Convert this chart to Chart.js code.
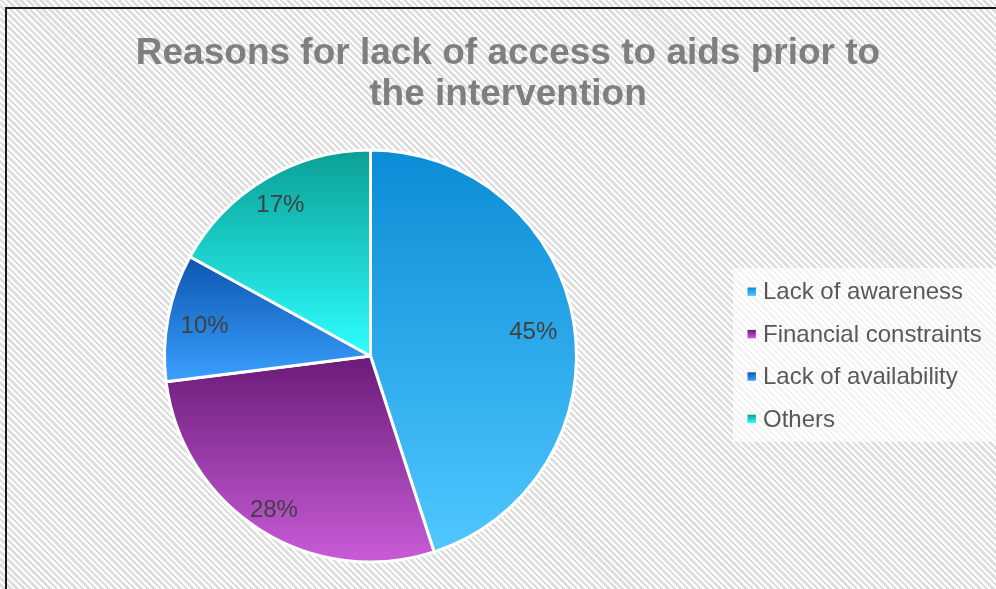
<!DOCTYPE html>
<html>
<head>
<meta charset="utf-8">
<script src="https://cdn.jsdelivr.net/npm/chart.js@4/dist/chart.umd.min.js"></script>
<style>
  html, body { margin: 0; padding: 0; }
  #wrap {
    position: relative;
    width: 996px;
    height: 589px;
    overflow: hidden;
    background: repeating-linear-gradient(45deg, #ffffff 0px, #ffffff 2.1px, #dedede 2.1px, #dedede 4.6px);
  }
  #frame {
    position: absolute;
    left: 5px;
    top: 7px;
    width: 1000px;
    height: 600px;
    border-left: 2px solid #1a1a1a;
    border-top: 2px solid #1a1a1a;
  }
  canvas { position: absolute; left: 0; top: 0; }
</style>
</head>
<body>
<div id="wrap">
  <div id="frame"></div>
  <canvas id="chart" width="996" height="589"></canvas>
</div>
<script>
const titleLines = ["Reasons for lack of access to aids prior to", "the intervention"];
const categories = ["Lack of awareness", "Financial constraints", "Lack of availability", "Others"];
const shares = [45, 28, 10, 17];
const topColors = ["#0B8CD6", "#6A1B78", "#0D55AE", "#0A9E94"];
const bottomColors = ["#50C7FF", "#C95CD8", "#3AA0FF", "#2EFFFF"];

const FONT = "'Liberation Sans', Arial, sans-serif";
// how far out along the radius each percentage sits
const labelDist = [0.80, 0.875, 0.82, 0.86];

// vertical gradient over the bounding box of each slice, like the office chart
function sliceGradient(ctx) {
  const chart = ctx.chart;
  const area = chart.chartArea;
  const i = ctx.dataIndex;
  if (!area) return topColors[i];
  const cx = (area.left + area.right) / 2;
  const cy = (area.top + area.bottom) / 2;
  const r = Math.min(area.width, area.height) / 2;
  const total = shares.reduce((a, b) => a + b, 0);
  let start = 0;
  for (let k = 0; k < i; k++) start += shares[k];
  const a0 = start / total * Math.PI * 2 - Math.PI / 2;
  const a1 = (start + shares[i]) / total * Math.PI * 2 - Math.PI / 2;
  let ys = [cy, cy + r * Math.sin(a0), cy + r * Math.sin(a1)];
  [Math.PI / 2, Math.PI * 1.5, -Math.PI / 2].forEach(a => {
    if (a > a0 && a < a1) ys.push(cy + r * Math.sin(a));
  });
  const g = chart.ctx.createLinearGradient(0, Math.min(...ys), 0, Math.max(...ys));
  g.addColorStop(0, topColors[i]);
  g.addColorStop(1, bottomColors[i]);
  return g;
}

const decorations = {
  id: "decorations",
  afterDatasetsDraw(chart) {
    const ctx = chart.ctx;
    const meta = chart.getDatasetMeta(0);
    const total = shares.reduce((a, b) => a + b, 0);
    ctx.save();
    ctx.font = "24px " + FONT;
    ctx.fillStyle = "#404040";
    ctx.textAlign = "center";
    ctx.textBaseline = "middle";
    meta.data.forEach((arc, i) => {
      const mid = (arc.startAngle + arc.endAngle) / 2;
      const d = arc.outerRadius * labelDist[i];
      ctx.fillText(Math.round(shares[i] / total * 100) + "%", arc.x + Math.cos(mid) * d, arc.y + Math.sin(mid) * d + 2);
    });
    ctx.restore();
  },
  afterDraw(chart) {
    const ctx = chart.ctx;
    ctx.save();
    // title
    ctx.font = "bold 37px " + FONT;
    ctx.fillStyle = "#7f7f7f";
    ctx.textAlign = "center";
    ctx.textBaseline = "alphabetic";
    titleLines.forEach((t, i) => ctx.fillText(t, 508, 64 + i * 41));

    // legend
    ctx.fillStyle = "rgba(255,255,255,0.65)";
    ctx.fillRect(733, 268, 263, 174);
    ctx.font = "24px " + FONT;
    ctx.textAlign = "left";
    ctx.textBaseline = "middle";
    categories.forEach((c, i) => {
      const y = 291.7 + i * 42.4;
      const g = ctx.createLinearGradient(0, y - 4.2, 0, y + 4.2);
      g.addColorStop(0, topColors[i]);
      g.addColorStop(1, bottomColors[i]);
      ctx.fillStyle = g;
      ctx.fillRect(747.5, y - 4.2, 8.4, 8.4);
      ctx.fillStyle = "#595959";
      ctx.fillText(c, 763, y + 1);
    });
    ctx.restore();
  }
};

new Chart(document.getElementById("chart"), {
  type: "pie",
  data: {
    labels: categories,
    datasets: [{
      data: shares,
      backgroundColor: sliceGradient,
      borderColor: "#ffffff",
      borderWidth: 3,
    }],
  },
  options: {
    responsive: false,
    animation: false,
    layout: {
      padding: { left: 163, right: 418, top: 148.5, bottom: 25.5 },
    },
    plugins: {
      legend: { display: false },
      title: { display: false },
      tooltip: { enabled: false },
    },
  },
  plugins: [decorations],
});
</script>
</body>
</html>
